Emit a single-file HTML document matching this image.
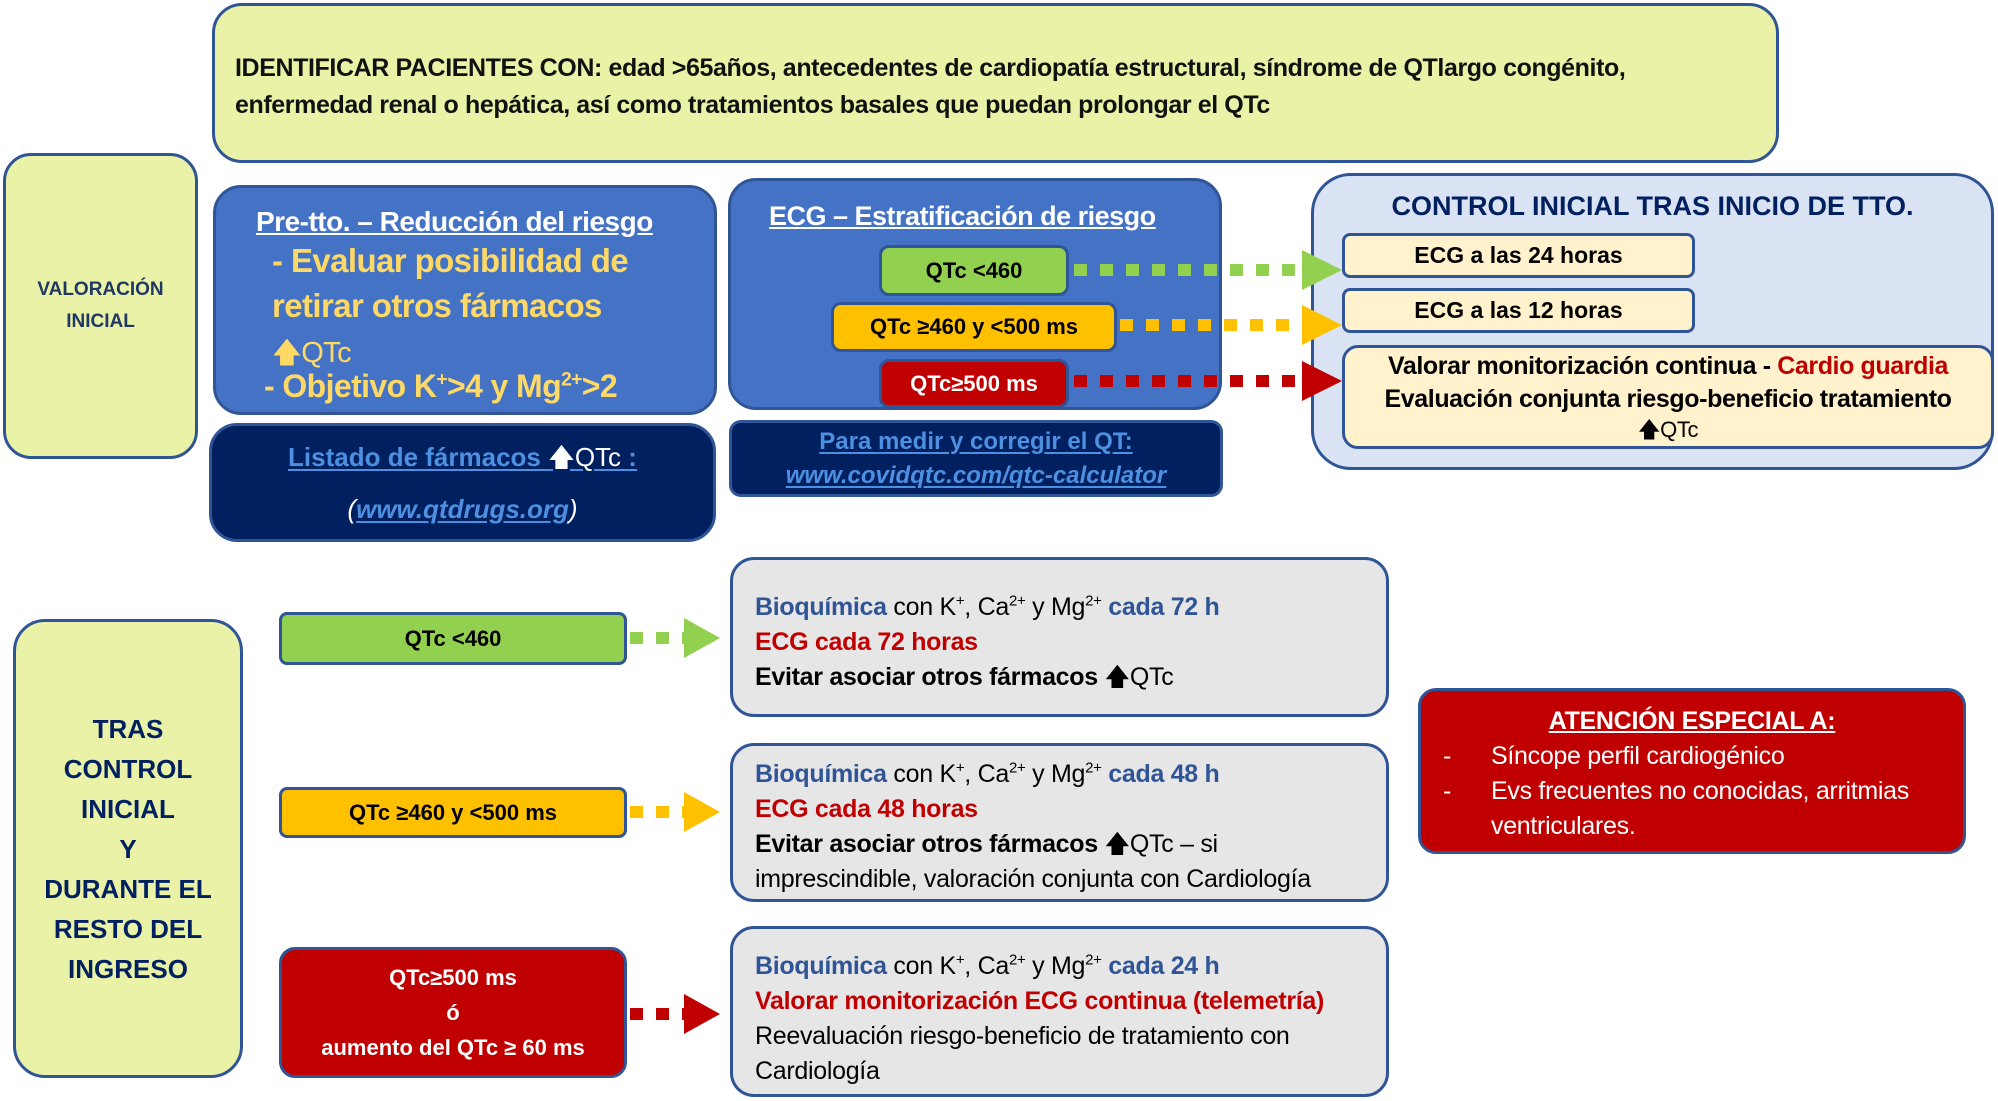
<!DOCTYPE html>
<html><head><meta charset="utf-8"><style>
body{margin:0;width:1998px;height:1101px;background:#fff;position:relative;overflow:hidden;font-family:"Liberation Sans",sans-serif;}
.b{position:absolute;box-sizing:border-box;border:3px solid #2F5597;border-radius:28px;}
.c{display:flex;flex-direction:column;justify-content:center;align-items:center;text-align:center;}
.nv{color:#1F3864;font-weight:bold;}
u{text-underline-offset:3px}
sup{font-size:60%;line-height:0}
.g{white-space:nowrap}
</style></head><body>
<div class="b g" style="left:212px;top:3px;width:1567px;height:160px;background:#E9F2A6;border-radius:30px;padding:44px 0 0 20px;font-weight:bold;font-size:25px;line-height:37px;color:#111;letter-spacing:-0.4px">IDENTIFICAR PACIENTES CON: edad &gt;65años, antecedentes de cardiopatía estructural, síndrome de QTlargo congénito,<br>enfermedad renal o hepática, así como tratamientos basales que puedan prolongar el QTc</div>

<div class="b c nv" style="left:3px;top:153px;width:195px;height:306px;background:#E9F2A6;font-size:19px;line-height:32px;font-weight:bold">VALORACIÓN<br>INICIAL</div>

<div class="b g" style="left:213px;top:185px;width:504px;height:230px;background:#4472C4;color:#FFD966;font-weight:bold">
<div style="position:absolute;left:40px;top:18px;color:#fff;font-size:28px;text-decoration:underline;letter-spacing:-0.5px">Pre-tto. – Reducción del riesgo</div>
<div style="position:absolute;left:56px;top:50px;font-size:33px;line-height:45px;letter-spacing:-0.6px">- Evaluar posibilidad de<br>retirar otros fármacos<br><span style="font-weight:normal;font-size:29px">🡅QTc</span></div>
<div style="position:absolute;left:48px;top:180px;font-size:32px;letter-spacing:-0.6px">- Objetivo K<sup>+</sup>&gt;4 y Mg<sup>2+</sup>&gt;2</div>
</div>
<div class="b c" style="left:209px;top:423px;width:507px;height:119px;background:#002060;color:#4D8FE0;font-size:26px;line-height:52px;font-weight:bold">
<div><u>Listado de fármacos <span style="color:#fff;font-weight:normal">🡅QTc </span>:</u></div>
<div style="color:#fff;font-style:italic;font-weight:normal">(<u style="color:#4D8FE0;font-weight:bold">www.qtdrugs.org</u>)</div></div>

<div class="b" style="left:728px;top:178px;width:494px;height:232px;background:#4472C4">
<div class="g" style="position:absolute;left:38px;top:20px;color:#fff;font-size:27px;font-weight:bold;text-decoration:underline;letter-spacing:-0.5px">ECG – Estratificación de riesgo</div></div>
<div class="b c" style="left:879px;top:245px;width:190px;height:51px;border-radius:10px;background:#92D050;font-weight:bold;font-size:22px">QTc &lt;460</div>
<div class="b c" style="left:831px;top:302px;width:286px;height:50px;border-radius:10px;background:#FFC000;font-weight:bold;font-size:22px">QTc ≥460 y &lt;500 ms</div>
<div class="b c" style="left:879px;top:359px;width:190px;height:49px;border-radius:10px;background:#C00000;color:#fff;font-weight:bold;font-size:22px">QTc≥500 ms</div>
<div class="b c" style="left:729px;top:420px;width:494px;height:77px;border-radius:12px;background:#002060;color:#4D8FE0;font-size:24px;line-height:34px;font-weight:bold">
<u>Para medir y corregir el QT:</u><u style="font-style:italic">www.covidqtc.com/qtc-calculator</u></div>

<div class="b" style="left:1311px;top:173px;width:683px;height:297px;background:#DAE3F3;border-radius:40px">
<div class="nv g" style="position:absolute;left:0;right:0;top:15px;text-align:center;font-size:27px;color:#002060">CONTROL INICIAL TRAS INICIO DE TTO.</div></div>
<div class="b c" style="left:1342px;top:233px;width:353px;height:45px;border-radius:8px;background:#FFF2CC;font-weight:bold;font-size:23px">ECG a las 24 horas</div>
<div class="b c" style="left:1342px;top:288px;width:353px;height:45px;border-radius:8px;background:#FFF2CC;font-weight:bold;font-size:23px">ECG a las 12 horas</div>
<div class="b c g" style="left:1342px;top:345px;width:652px;height:104px;border-radius:16px;background:#FFF2CC;font-weight:bold;font-size:25px;line-height:33px;letter-spacing:-0.4px">
<div>Valorar monitorización continua - <span style="color:#C00000">Cardio guardia</span></div>
<div>Evaluación conjunta riesgo-beneficio tratamiento</div>
<div style="font-weight:normal;font-size:22px;line-height:28px">🡅QTc</div></div>

<div class="b c nv" style="left:13px;top:619px;width:230px;height:459px;background:#E9F2A6;font-size:26px;line-height:40px;border-radius:32px;color:#002060">TRAS<br>CONTROL<br>INICIAL<br>Y<br>DURANTE EL<br>RESTO DEL<br>INGRESO</div>

<div class="b c" style="left:279px;top:612px;width:348px;height:53px;border-radius:8px;background:#92D050;font-weight:bold;font-size:22px">QTc &lt;460</div>
<div class="b c" style="left:279px;top:787px;width:348px;height:51px;border-radius:8px;background:#FFC000;font-weight:bold;font-size:22px">QTc ≥460 y &lt;500 ms</div>
<div class="b c" style="left:279px;top:947px;width:348px;height:131px;border-radius:16px;background:#C00000;color:#fff;font-weight:bold;font-size:22px;line-height:35px">QTc≥500 ms<br>ó<br>aumento del QTc ≥ 60 ms</div>

<div class="b g" style="left:730px;top:557px;width:659px;height:160px;background:#E7E6E6;border-radius:24px;padding:30px 0 0 22px;font-size:25px;line-height:35px;letter-spacing:-0.3px">
<b style="color:#2F5597">Bioquímica</b> con K<sup>+</sup>, Ca<sup>2+</sup> y Mg<sup>2+</sup> <b style="color:#2F5597">cada 72 h</b><br><b style="color:#C00000">ECG cada 72 horas</b><br><b>Evitar asociar otros fármacos </b>🡅QTc</div>
<div class="b g" style="left:730px;top:743px;width:659px;height:159px;background:#E7E6E6;border-radius:24px;padding:11px 0 0 22px;font-size:25px;line-height:35px;letter-spacing:-0.3px">
<b style="color:#2F5597">Bioquímica</b> con K<sup>+</sup>, Ca<sup>2+</sup> y Mg<sup>2+</sup> <b style="color:#2F5597">cada 48 h</b><br><b style="color:#C00000">ECG cada 48 horas</b><br><b>Evitar asociar otros fármacos </b>🡅QTc – si<br>imprescindible, valoración conjunta con Cardiología</div>
<div class="b g" style="left:730px;top:926px;width:659px;height:171px;background:#E7E6E6;border-radius:24px;padding:20px 0 0 22px;font-size:25px;line-height:35px;letter-spacing:-0.3px">
<b style="color:#2F5597">Bioquímica</b> con K<sup>+</sup>, Ca<sup>2+</sup> y Mg<sup>2+</sup> <b style="color:#2F5597">cada 24 h</b><br><b style="color:#C00000">Valorar monitorización ECG continua (telemetría)</b><br>Reevaluación riesgo-beneficio de tratamiento con<br>Cardiología</div>

<div class="b" style="left:1418px;top:688px;width:548px;height:166px;background:#C00000;border-radius:18px;color:#fff;font-size:25px;line-height:35px;letter-spacing:-0.3px">
<div style="text-align:center;margin-top:13px;font-weight:bold;text-decoration:underline">ATENCIÓN ESPECIAL A:</div>
<div style="position:absolute;left:22px;top:48px">-</div><div class="g" style="position:absolute;left:70px;top:48px">Síncope perfil cardiogénico</div>
<div style="position:absolute;left:22px;top:83px">-</div><div style="position:absolute;left:70px;top:83px;width:475px">Evs frecuentes no conocidas, arritmias ventriculares.</div></div>

<svg style="position:absolute;left:0;top:0" width="1998" height="1101">
<g stroke-width="12" stroke-dasharray="13,13">
<line x1="1074" y1="270" x2="1302" y2="270" stroke="#92D050"/>
<line x1="1120" y1="325" x2="1302" y2="325" stroke="#FFC000"/>
<line x1="1074" y1="381" x2="1302" y2="381" stroke="#C00000"/>
<line x1="630" y1="638" x2="684" y2="638" stroke="#92D050"/>
<line x1="630" y1="812" x2="684" y2="812" stroke="#FFC000"/>
<line x1="630" y1="1014" x2="684" y2="1014" stroke="#C00000"/>
</g>
<polygon points="1302,250 1342,270 1302,290" fill="#92D050"/>
<polygon points="1302,305 1342,325 1302,345" fill="#FFC000"/>
<polygon points="1302,361 1342,381 1302,401" fill="#C00000"/>
<polygon points="684,618 720,638 684,658" fill="#92D050"/>
<polygon points="684,792 720,812 684,832" fill="#FFC000"/>
<polygon points="684,994 720,1014 684,1034" fill="#C00000"/>
</svg>
</body></html>
